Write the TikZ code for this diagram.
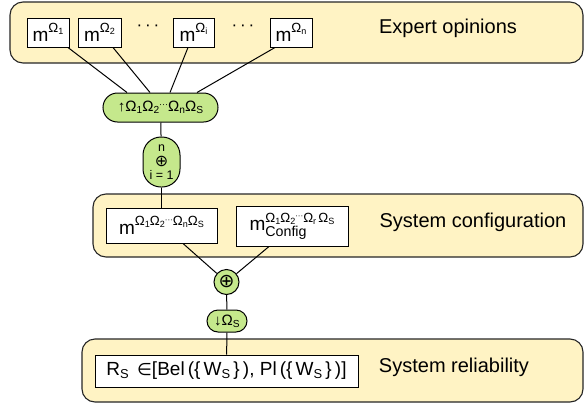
\documentclass[tikz,border=0pt]{standalone}
\usepackage{fontspec}
\setmainfont{Liberation Sans}
\newfontfamily\symfont{DejaVu Sans}
\definecolor{panelfill}{RGB}{255,243,196}
\definecolor{opfill}{RGB}{197,232,140}
\newcommand\lo[1]{\raisebox{-0.3ex}{\scalebox{0.68}{#1}}}
\newcommand\hi[1]{\raisebox{0.85ex}{\scalebox{0.7}{#1}}}
\begin{document}
\begin{tikzpicture}[x=1pt,y=-1pt,line width=1pt,
    panel/.style={draw=black!85,fill=panelfill,rounded corners=13pt,line width=1.1pt},
    mbox/.style={draw,fill=white,line width=1pt,inner sep=0pt,font=\fontsize{19}{22}\selectfont},
    op/.style={draw,fill=opfill,line width=1pt,inner sep=0pt},
    title/.style={font=\fontsize{20}{24}\selectfont}]
  \useasboundingbox (0,0) rectangle (584,405);
  % panels
  \draw[panel] (10,2) rectangle (583,63);
  \draw[panel] (93,194) rectangle (583,257);
  \draw[panel] (82,339) rectangle (583,402);
  \node[title] (expert) at (448,28) {Expert opinions};
  \node[title] (config) at (473,222) {System configuration};
  \node[title] (reliab) at (454,367) {System reliability};
  % expert opinions
  \node[mbox,minimum width=42,minimum height=29] (m1) at (48,32.5) {m\hi{Ω\lo{1}}};
  \node[mbox,minimum width=43,minimum height=29] (m2) at (99.5,32.5) {m\hi{Ω\lo{2}}};
  \node[mbox,minimum width=41,minimum height=29] (mi) at (193.5,32.5) {m\hi{Ω\lo{i}}};
  \node[mbox,minimum width=42,minimum height=29] (mn) at (291,32.5) {m\hi{Ω\lo{n}}};
  \node[font=\fontsize{17}{18}\selectfont] (dotsa) at (148,28) {·\,·\,·};
  \node[font=\fontsize{17}{18}\selectfont] (dotsb) at (243,28) {·\,·\,·};
  % combination
  \node[op,minimum width=115,minimum height=29,rounded corners=14.5pt,
        font=\fontsize{15}{16}\selectfont] (up) at (160.5,107.5)
        {↑Ω\lo{1}Ω\lo{2}\raisebox{0.5ex}{\scalebox{0.6}{···}}Ω\lo{n}Ω\lo{S}};
  \node[op,minimum width=37,minimum height=50,rounded corners=18pt,align=center,
        font=\fontsize{12.5}{10}\selectfont] (sum) at (161.5,162)
        {n\\[3pt]{\symfont\fontsize{16}{13}\selectfont ⊕}\\[3pt]i = 1};
  % system configuration
  \node[mbox,minimum width=111,minimum height=35] (mall) at (161.5,225.5)
        {m\hi{Ω\lo{1}Ω\lo{2}\raisebox{0.5ex}{\scalebox{0.6}{···}}Ω\lo{n}Ω\lo{S}}};
  \node[mbox,minimum width=112,minimum height=40] (mconf) at (292,226)
        {m\rlap{\raisebox{-0.55ex}{\scalebox{0.75}{Config}}}\hi{Ω\lo{1}Ω\lo{2}\raisebox{0.5ex}{\scalebox{0.6}{···}}Ω\lo{r}\,Ω\lo{S}}};
  \node[op,circle,minimum size=25,font=\symfont\fontsize{19}{19}\selectfont] (plus) at (226.5,282) {⊕};
  \node[op,minimum width=40,minimum height=22,rounded corners=11pt,
        font=\fontsize{15}{16}\selectfont] (down) at (227,321) {↓Ω\lo{S}};
  % system reliability
  \node[mbox,minimum width=263,minimum height=32] (rs) at (226.5,371)
        {R\lo{S}\;\,{\symfont\fontsize{17}{20}\selectfont ∈}[Bel\,(\{\,W\lo{S}\,\}\,), Pl\,(\{\,W\lo{S}\,\}\,)]};
  % connectors
  \draw ([xshift=20]m1.south) -- ([xshift=-33.5]up.north);
  \draw ([xshift=13.5]m2.south) -- ([xshift=-10.5]up.north);
  \draw ([xshift=-5.5]mi.south) -- ([xshift=9.5]up.north);
  \draw ([xshift=-16]mn.south) -- ([xshift=36.5]up.north);
  \draw (up) -- (sum);
  \draw (sum) -- (mall);
  \draw ([xshift=21.5]mall.south) -- (plus);
  \draw ([xshift=-23]mconf.south) -- (plus);
  \draw (plus) -- (down);
  \draw (down) -- (rs);
\end{tikzpicture}
\end{document}
